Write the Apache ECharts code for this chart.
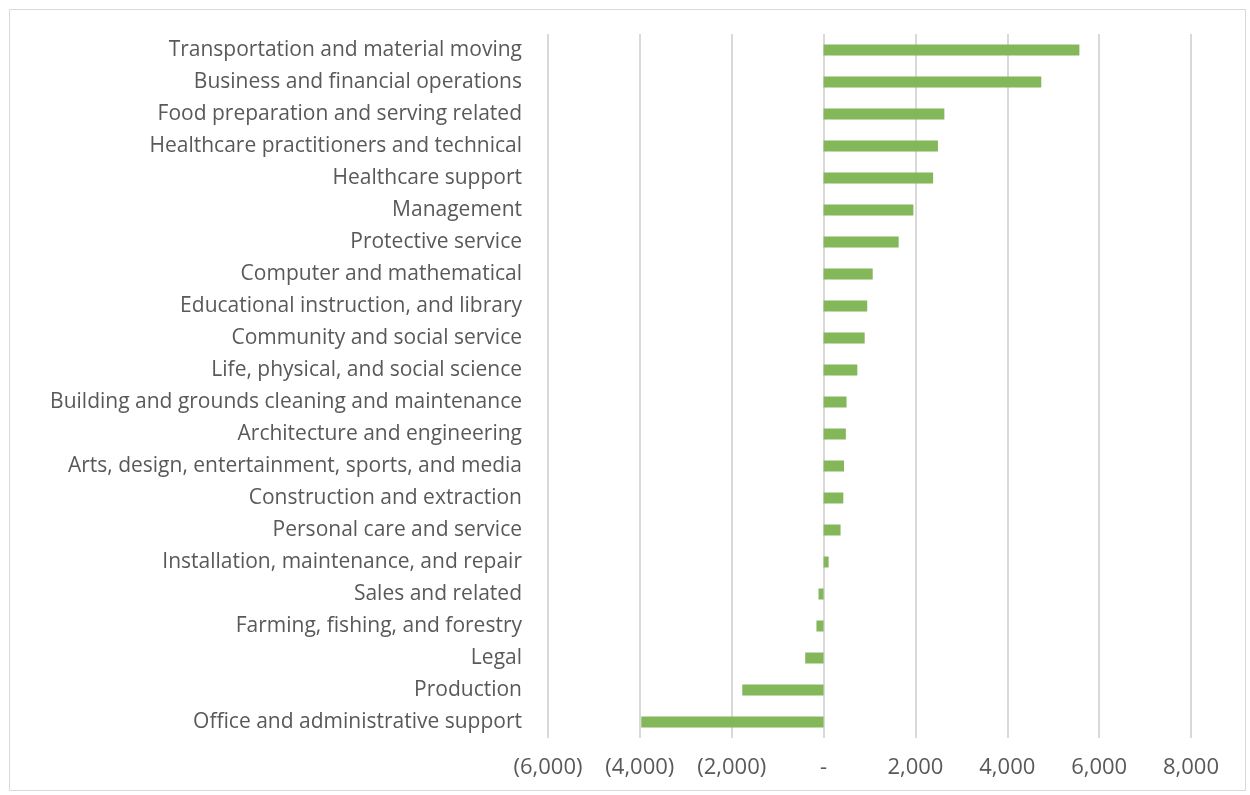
<!DOCTYPE html>
<html>
<head>
<meta charset="utf-8">
<script src="https://cdn.jsdelivr.net/npm/echarts@6/dist/echarts.min.js"></script>
<style>
html,body{margin:0;padding:0;background:#fff;}
#chart{width:1250px;height:795px;}
</style>
</head>
<body>
<div id="chart"></div>
<script>
const categories = [
  "Transportation and material moving",
  "Business and financial operations",
  "Food preparation and serving related",
  "Healthcare practitioners and technical",
  "Healthcare support",
  "Management",
  "Protective service",
  "Computer and mathematical",
  "Educational instruction, and library",
  "Community and social service",
  "Life, physical, and social science",
  "Building and grounds cleaning and maintenance",
  "Architecture and engineering",
  "Arts, design, entertainment, sports, and media",
  "Construction and extraction",
  "Personal care and service",
  "Installation, maintenance, and repair",
  "Sales and related",
  "Farming, fishing, and forestry",
  "Legal",
  "Production",
  "Office and administrative support"
];
const values = [5570, 4740, 2630, 2490, 2385, 1955, 1635, 1070, 950, 895, 735, 500, 485, 445, 430, 370, 110, -110, -155, -400, -1770, -3970];
const xMin = -6000, xMax = 8000, xStep = 2000;

function fmt(v) {
  if (v === 0) return '-';
  const s = Math.abs(v).toLocaleString('en-US');
  return v < 0 ? '(' + s + ')' : s;
}

const chart = echarts.init(document.getElementById('chart'), null, {renderer: 'canvas'});
chart.setOption({
  animation: false,
  backgroundColor: '#fff',
  graphic: [{
    type: 'rect', left: 7, top: 7,
    shape: {width: 1236, height: 781},
    style: {fill: 'none', stroke: '#d9d9d9', lineWidth: 1}
  }],
  grid: {left: 548, right: 59, top: 34, bottom: 57, containLabel: false},
  xAxis: {
    type: 'value', min: xMin, max: xMax, interval: xStep,
    axisLine: {show: false}, axisTick: {show: false},
    splitLine: {show: true, lineStyle: {color: '#d9d9d9', width: 2}},
    axisLabel: {formatter: fmt, color: '#595959', fontSize: 22, fontFamily: 'Open Sans', margin: 19}
  },
  yAxis: {
    type: 'category', data: categories, inverse: true,
    axisLine: {show: false}, axisTick: {show: false},
    axisLabel: {color: '#595959', fontSize: 21, fontFamily: 'Open Sans', margin: 26, padding: [6, 0, 0, 0]}
  },
  series: [{
    type: 'bar', data: values, barWidth: 11,
    itemStyle: {color: '#84b65a'}
  }]
});
</script>
</body>
</html>
